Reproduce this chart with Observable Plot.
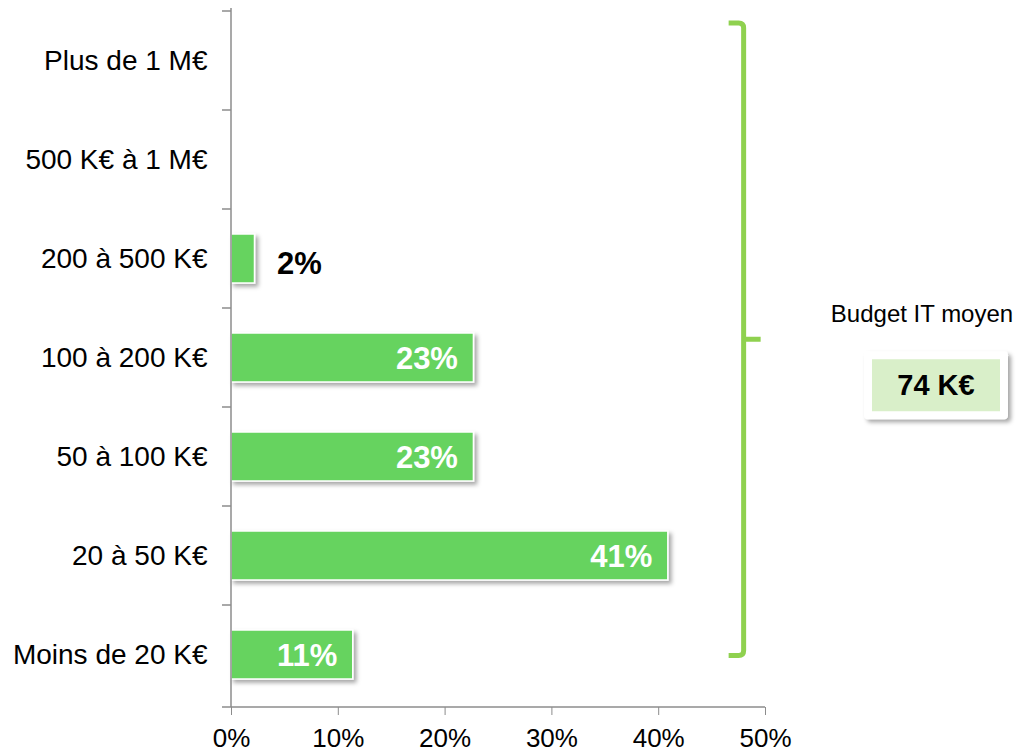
<!DOCTYPE html>
<html>
<head>
<meta charset="utf-8">
<script src="https://cdn.jsdelivr.net/npm/d3@7"></script>
<script src="https://cdn.jsdelivr.net/npm/@observablehq/plot@0.6"></script>
<style>
  html, body { margin: 0; padding: 0; background: #fff; }
  #chart { width: 1020px; height: 755px; }
</style>
</head>
<body>
<div id="chart"></div>
<script>
const categories = ["Plus de 1 M€", "500 K€ à 1 M€", "200 à 500 K€", "100 à 200 K€", "50 à 100 K€", "20 à 50 K€", "Moins de 20 K€"];
const values = [0, 0, 2.2, 22.7, 22.7, 40.9, 11.4];
const labels = ["", "", "2%", "23%", "23%", "41%", "11%"];
const xTicks = [0, 10, 20, 30, 40, 50];
const annotationTitle = "Budget IT moyen";
const annotationValue = "74 K€";

(function () {
const data = categories.map((c, i) => ({cat: c, value: values[i], label: labels[i]}));
const FONT = "'Liberation Sans', Arial, sans-serif";
const BAR = "#66d35f";
const BRACE = "#8fd14f";
const AXIS = "#8c8c8c";

const plot = Plot.plot({
  width: 1020,
  height: 755,
  marginLeft: 231,
  marginRight: 255,
  marginTop: 8,
  marginBottom: 48,
  style: {fontFamily: FONT, fontSize: "26px", color: "#000", background: "#fff"},
  x: {domain: [0, 50]},
  y: {domain: categories, paddingInner: 0.51, paddingOuter: 0.255},
  marks: [
    Plot.axisX({ticks: xTicks, tickFormat: d => d + "%", tickSize: 8, tickPadding: 13, stroke: AXIS, fill: "#000", fontSize: 26, label: null}),
    Plot.axisY({tickSize: 0, tickPadding: 24, fill: "#000", fontSize: 28, label: null}),
    Plot.barX(data.filter(d => d.value > 0), {x: "value", y: "cat", fill: BAR, stroke: "white", strokeWidth: 1.5}),
    Plot.text(data.filter(d => d.value > 5), {x: "value", y: "cat", text: "label", textAnchor: "end", dx: -16, dy: 1, fill: "white", fontWeight: "bold", fontSize: 31}),
    Plot.text(data.filter(d => d.value > 0 && d.value <= 5), {x: "value", y: "cat", text: "label", textAnchor: "start", dx: 22, dy: 5, fill: "black", fontWeight: "bold", fontSize: 31})
  ]
});

document.getElementById("chart").appendChild(plot);

const svg = d3.select(plot);
const xs = plot.scale("x");
const ys = plot.scale("y");
const step = ys.step !== undefined ? ys.step : (ys.bandwidth / (1 - 0.51));
const yTop = 8, yBottom = 755 - 48;
const x0 = xs.apply(0), x50 = xs.apply(50);

const defs = svg.insert("defs", ":first-child");
const f = defs.append("filter").attr("id", "shadow").attr("x", "-20%").attr("y", "-30%").attr("width", "140%").attr("height", "180%");
f.append("feDropShadow").attr("dx", 3).attr("dy", 3).attr("stdDeviation", 2).attr("flood-color", "#000").attr("flood-opacity", 0.35);
svg.selectAll("g[aria-label='bar']").attr("filter", "url(#shadow)");

const g = svg.append("g");
g.append("line").attr("x1", x0).attr("x2", x0).attr("y1", yTop).attr("y2", yBottom).attr("stroke", AXIS).attr("stroke-width", 1.5);
g.append("line").attr("x1", x0).attr("x2", x50).attr("y1", yBottom).attr("y2", yBottom).attr("stroke", AXIS).attr("stroke-width", 1.5);
const gap = (step - ys.bandwidth) / 2;
categories.forEach((c) => {
  const yb = ys.apply(c) - gap;
  g.append("line").attr("x1", x0 - 9).attr("x2", x0).attr("y1", yb).attr("y2", yb).attr("stroke", AXIS).attr("stroke-width", 1.5);
});
g.append("line").attr("x1", x0 - 9).attr("x2", x0).attr("y1", yBottom).attr("y2", yBottom).attr("stroke", AXIS).attr("stroke-width", 1.5);

const bx = xs.apply(48);
const bTop = ys.apply(categories[0]) - 13;
const bBot = ys.apply(categories[categories.length - 1]) + ys.bandwidth / 2 + 1;
const bMid = (bTop + bBot) / 2;
g.append("path")
  .attr("d", `M${bx - 15},${bTop} H${bx - 5} Q${bx},${bTop} ${bx},${bTop + 5} V${bBot - 5} Q${bx},${bBot} ${bx - 5},${bBot} H${bx - 15} M${bx},${bMid} H${bx + 17}`)
  .attr("fill", "none").attr("stroke", BRACE).attr("stroke-width", 5).attr("stroke-linejoin", "round");

const ax = 922;
g.append("text").attr("x", ax).attr("y", bMid - 17).attr("text-anchor", "middle")
  .attr("font-family", FONT).attr("font-size", 24).attr("fill", "#000").text(annotationTitle);
g.append("rect").attr("x", 864).attr("y", bMid + 12).attr("width", 144).attr("height", 68)
  .attr("rx", 4).attr("fill", "#fff").attr("filter", "url(#shadow)");
g.append("rect").attr("x", 872).attr("y", bMid + 20).attr("width", 128).attr("height", 52).attr("fill", "#d9efc9");
g.append("text").attr("x", 936).attr("y", bMid + 56).attr("text-anchor", "middle")
  .attr("font-family", FONT).attr("font-size", 29).attr("font-weight", "bold").attr("fill", "#000").text(annotationValue);
})();
</script>
</body>
</html>
